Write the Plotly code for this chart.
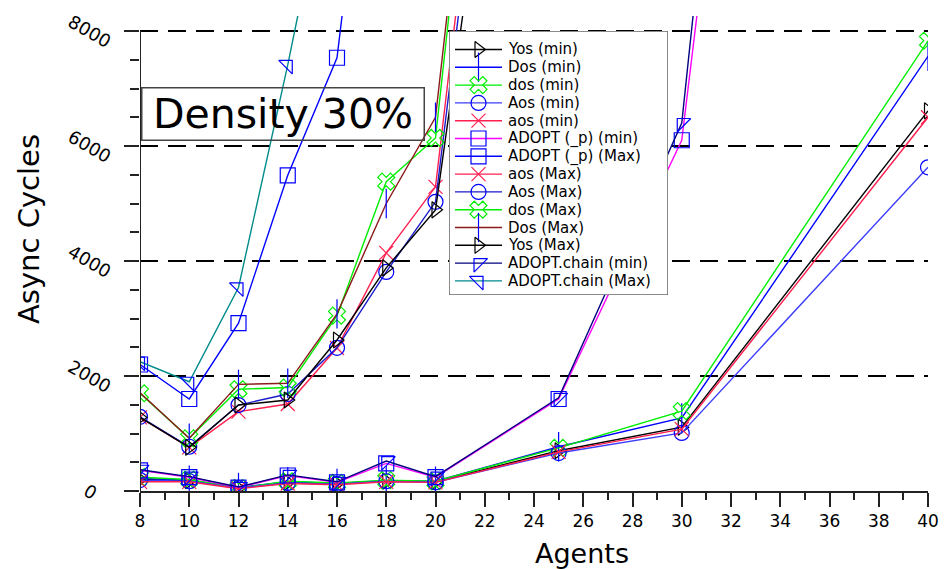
import plotly.graph_objects as go

# ---------------- data ----------------
x_min = [8, 10, 12, 14, 16, 18, 20, 25, 30, 40]
x_max = [8, 10, 12, 14, 16, 18, 20, 25]
x_adopt_max = [8, 10, 12, 14, 16, 18]
x_chain_max = [8, 10, 12, 14, 16]

yos_min = [200, 180, 50, 150, 130, 170, 160, 700, 1110, 6610]
dos_cap_min = [220, 190, 60, 160, 130, 180, 170, 770, 1270, 7560]
dos_min = [240, 200, 50, 170, 140, 190, 170, 750, 1390, 7830]
aos_cap_min = [190, 170, 50, 140, 120, 170, 150, 660, 1010, 5630]
aos_min = [160, 160, 40, 130, 110, 160, 150, 680, 1075, 6500]
adopt_p_min = [360, 240, 60, 270, 150, 480, 240, 1600, 6100, 41300]
adopt_p_max = [2200, 1600, 2920, 5490, 7535, 14600]
aos_max = [1280, 760, 1380, 1513, 2487, 4140, 5290, 23500]
aos_cap_max = [1290, 770, 1495, 1687, 2490, 3810, 5030, 22440]
dos_max = [1700, 915, 1770, 1800, 3050, 5380, 6140, 25700]
dos_cap_max = [1710, 918, 1855, 1873, 3080, 5000, 6500, 25480]
yos_max = [1280, 760, 1495, 1583, 2626, 3880, 4890, 20200]
chain_min = [370, 250, 70, 280, 160, 520, 250, 1620, 6400, 47000]
chain_max = [2250, 1900, 3540, 7410, 11600]

x_ticks = list(range(8, 41, 2))
y_ticks = [0, 2000, 4000, 6000, 8000]

# ---------------- styles ----------------
BLUE = "#0000ff"
GREEN = "#00ee00"
RED = "#ff1f4f"
MAG = "#ff00ff"
BROWN = "#8b1a1a"
NAVY = "#000080"
TEAL = "#008b8b"
ABLUE = "#3c3cff"

series = [
    ("Yos (min)", x_min, yos_min, "black", "triangle-right-open", "black", 14),
    ("Dos (min)", x_min, dos_cap_min, BLUE, "line-ns", BLUE, 21),
    ("dos (min)", x_min, dos_min, GREEN, "x-open", GREEN, 15),
    ("Aos (min)", x_min, aos_cap_min, ABLUE, "circle-open", BLUE, 15),
    ("aos (min)", x_min, aos_min, RED, "x-thin", RED, 14),
    ("ADOPT (_p) (min)", x_min, adopt_p_min, MAG, "square-open", BLUE, 15),
    ("ADOPT (_p) (Max)", x_adopt_max, adopt_p_max, BLUE, "square-open", BLUE, 15),
    ("aos (Max)", x_max, aos_max, RED, "x-thin", RED, 14),
    ("Aos (Max)", x_max, aos_cap_max, "#1a1acc", "circle-open", BLUE, 15),
    ("dos (Max)", x_max, dos_max, GREEN, "x-open", GREEN, 15),
    ("Dos (Max)", x_max, dos_cap_max, BROWN, "line-ns", BLUE, 21),
    ("Yos (Max)", x_max, yos_max, "black", "triangle-right-open", "black", 14),
    ("ADOPT.chain (min)", x_min, chain_min, NAVY, "triangle-nw-open", BLUE, 15),
    ("ADOPT.chain (Max)", x_chain_max, chain_max, TEAL, "triangle-ne-open", BLUE, 15),
]

# ---------------- geometry (pixels) ----------------
W, H = 945, 569
PL, PR, PT, PB = 140, 928, 16, 491       # plot area
PW, PH = PR - PL, PB - PT
LEG_L, LEG_R, LEG_T, LEG_B = 449, 668, 31, 295
ROW0, ROWSTEP = 49.5, 17.8

def fx(px):
    return (px - PL) / PW

def fy(py):
    return (PB - py) / PH

fig = go.Figure()
for name, xs, ys, lc, sym, mc, sz in series:
    fig.add_trace(go.Scatter(
        x=xs, y=ys, name=name, mode="lines+markers", showlegend=False,
        line=dict(color=lc, width=1.4),
        marker=dict(symbol=sym, size=sz, color=mc, line=dict(color=mc, width=1.2)),
    ))

# ---------------- hand-built legend on an overlay axis in pixel units ----------------
annotations = []
for i, (name, xs, ys, lc, sym, mc, sz) in enumerate(series):
    ry = ROW0 + i * ROWSTEP
    fig.add_trace(go.Scatter(
        x=[455, 502], y=[ry, ry], mode="lines", showlegend=False, hoverinfo="skip",
        line=dict(color=lc, width=1.4), xaxis="x2", yaxis="y2", cliponaxis=False,
    ))
    fig.add_trace(go.Scatter(
        x=[478.5], y=[ry], mode="markers", showlegend=False, hoverinfo="skip",
        marker=dict(symbol=sym, size=sz, color=mc, line=dict(color=mc, width=1.2)),
        xaxis="x2", yaxis="y2", cliponaxis=False,
    ))
    annotations.append(dict(
        text=name, xref="x2", yref="y2", x=506, y=ry, xanchor="left", yanchor="middle",
        showarrow=False, font=dict(size=15, family="DejaVu Sans", color="black"),
    ))

# y tick labels (rotated, centred like the original)
for v in y_ticks:
    annotations.append(dict(
        text=str(v), xref="paper", yref="y", x=fx(90), y=v,
        xanchor="center", yanchor="middle", textangle=30, showarrow=False,
        font=dict(size=18, family="DejaVu Sans", color="black"),
    ))

YTOP = 8000 * PH / 460

annotations += [
    dict(text="Density 30%", xref="paper", yref="paper",
         x=fx(141), y=fy(87), xanchor="left", yanchor="top",
         showarrow=False, font=dict(size=41, family="DejaVu Sans", color="black"),
         bordercolor="#444444", borderwidth=1.5, borderpad=0,
         width=281, height=51, align="center", valign="middle"),
    dict(text="Async Cycles", xref="paper", yref="paper",
         x=fx(29), y=fy(229), xanchor="center", yanchor="middle",
         textangle=-90, showarrow=False, font=dict(size=29, family="DejaVu Sans")),
    dict(text="Agents", xref="paper", yref="paper",
         x=fx(582), y=fy(553), xanchor="center", yanchor="middle",
         showarrow=False, font=dict(size=27, family="DejaVu Sans")),
]

fig.update_layout(
    width=W, height=H,
    margin=dict(l=PL, r=W - PR, t=PT, b=H - PB, autoexpand=False),
    paper_bgcolor="white", plot_bgcolor="white",
    font=dict(family="DejaVu Sans", color="black"),
    showlegend=False,
    xaxis=dict(
        range=[8, 40], tickmode="array", tickvals=x_ticks,
        ticktext=[str(v) for v in x_ticks],
        ticks="outside", ticklen=14, tickwidth=2, tickcolor="#222222",
        minor=dict(dtick=1, ticks="outside", ticklen=7, tickwidth=2, tickcolor="#222222", showgrid=False),
        showgrid=False, zeroline=False,
        showline=True, linecolor="#222222", linewidth=2,
        tickfont=dict(size=17), automargin=False, fixedrange=True,
    ),
    yaxis=dict(
        range=[0, YTOP], tickmode="array", tickvals=y_ticks,
        showticklabels=False,
        ticks="outside", ticklen=15, tickwidth=2, tickcolor="#222222",
        minor=dict(tickmode="array", tickvals=[v for v in range(500, 8000, 500) if v % 2000],
                   ticks="outside", ticklen=9, tickwidth=2, tickcolor="#222222", showgrid=False),
        showgrid=True, gridcolor="black", gridwidth=1.5, griddash="18px,10px",
        zeroline=False, showline=False, automargin=False, fixedrange=True,
    ),
    xaxis2=dict(domain=[fx(LEG_L), fx(LEG_R)], range=[LEG_L, LEG_R], visible=False,
                anchor="y2", fixedrange=True),
    yaxis2=dict(domain=[fy(LEG_B), fy(LEG_T)], range=[LEG_B, LEG_T], visible=False,
                anchor="x2", fixedrange=True),
    shapes=[
        dict(type="line", xref="x", yref="y", x0=8, x1=8, y0=0, y1=8000,
             line=dict(color="#222222", width=2)),
        dict(type="rect", xref="x2", yref="y2", x0=LEG_L, x1=LEG_R, y0=LEG_T, y1=LEG_B,
             line=dict(color="#666666", width=1.5), fillcolor="rgba(0,0,0,0)", layer="above"),
    ],
    annotations=annotations,
)

fig.write_html("out.html", config={"displayModeBar": False, "staticPlot": True},
               post_script="document.body.style.margin='0';document.body.style.overflow='hidden';")
